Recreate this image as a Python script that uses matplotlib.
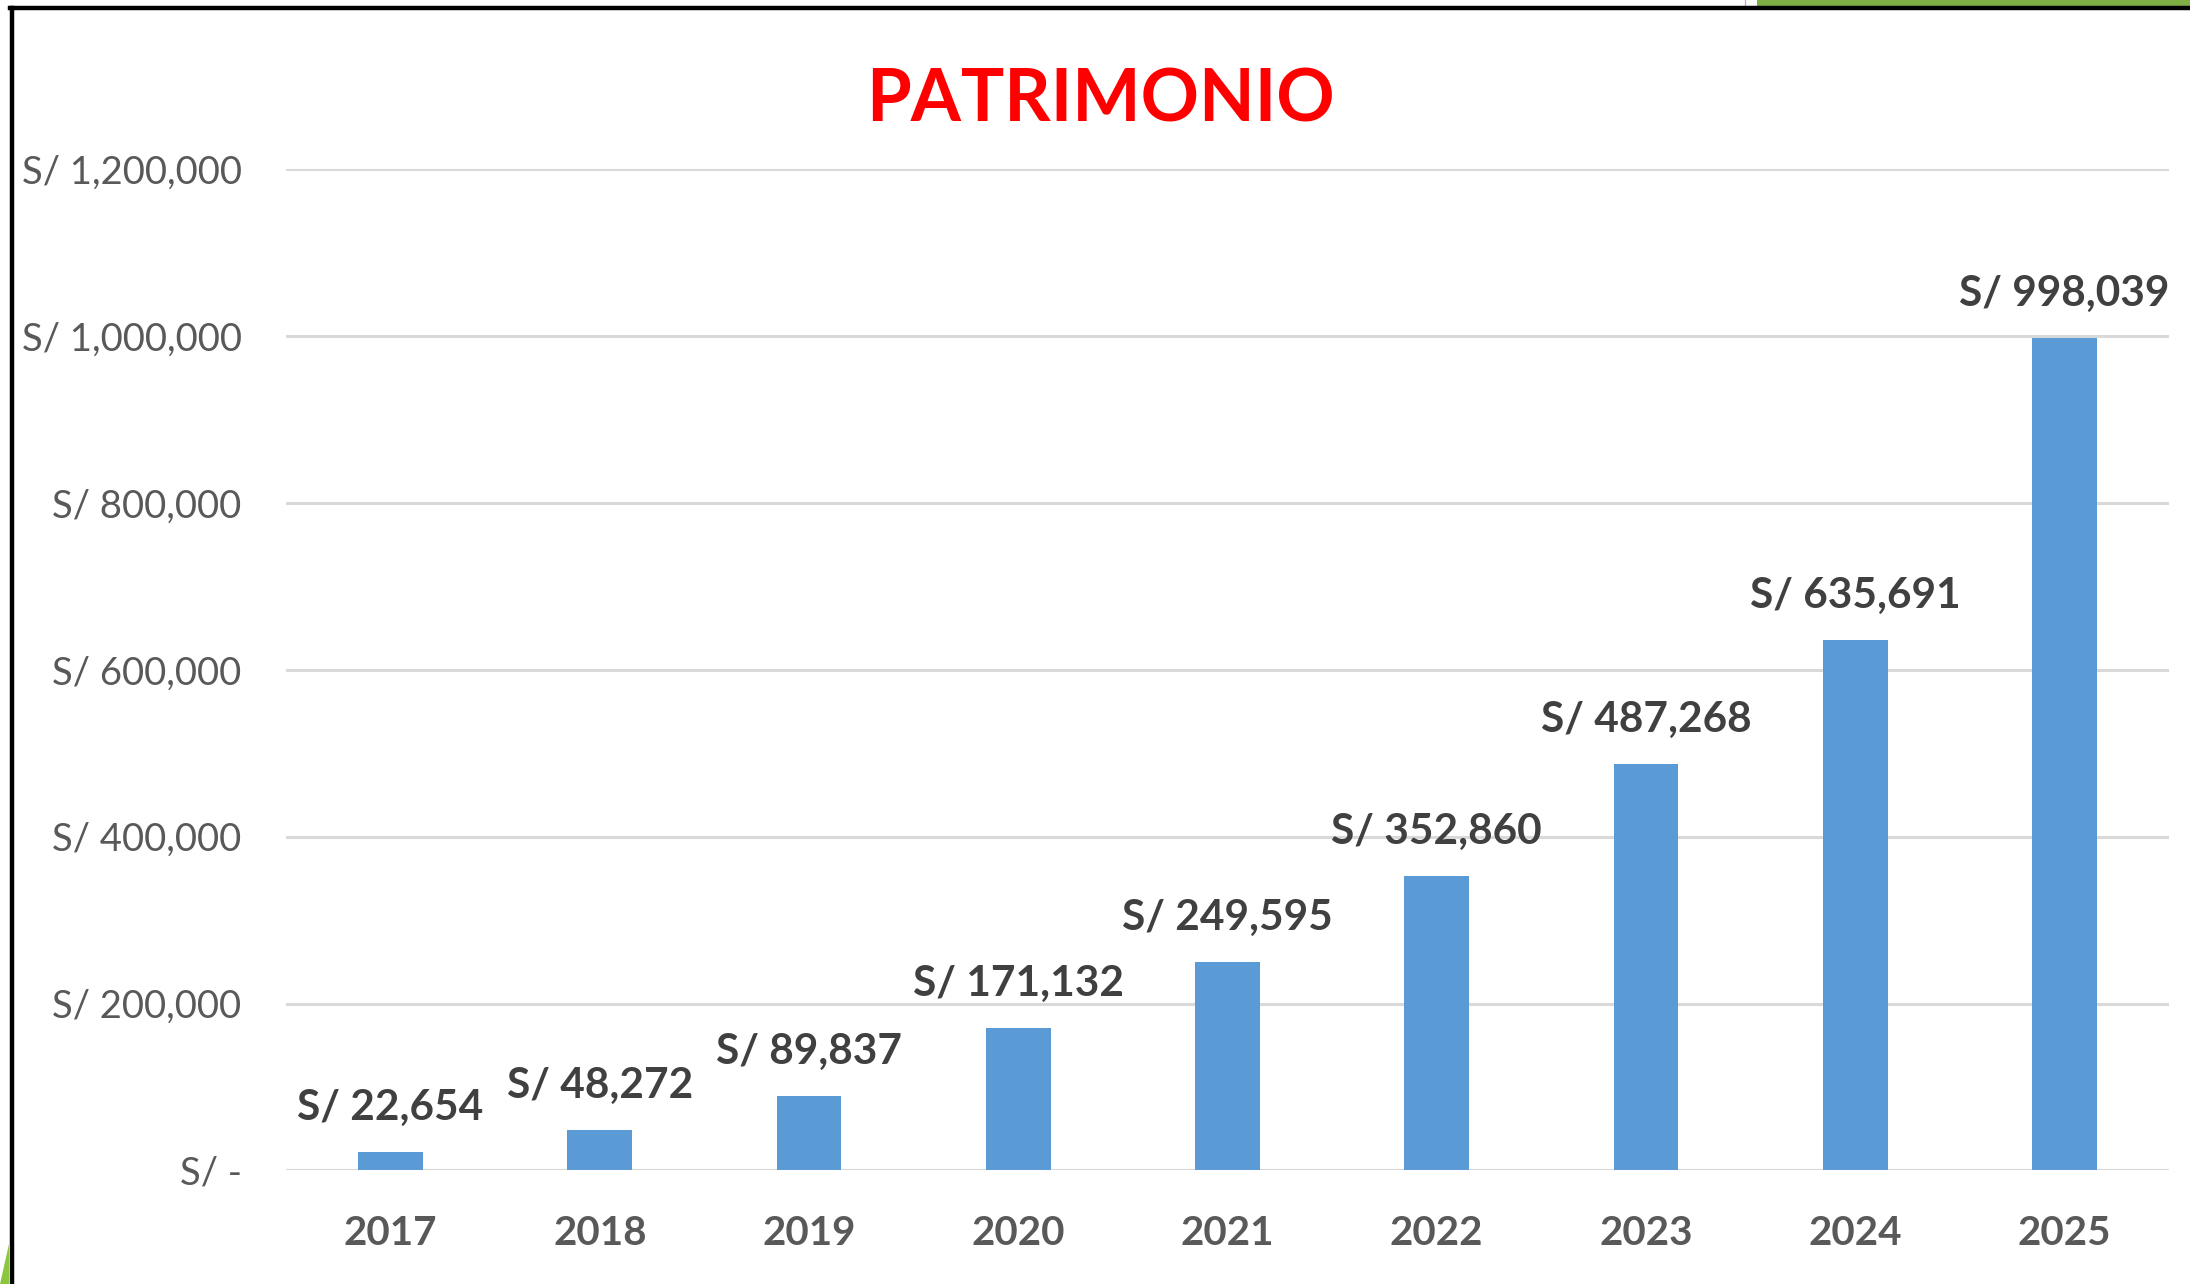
import matplotlib
matplotlib.use("Agg")
import matplotlib.pyplot as plt
from matplotlib.lines import Line2D
from matplotlib.patches import Polygon, Rectangle
from matplotlib.ticker import FuncFormatter

years = ["2017", "2018", "2019", "2020", "2021", "2022", "2023", "2024", "2025"]
patrimonio = [22654, 48272, 89837, 171132, 249595, 352860, 487268, 635691, 998039]
yticks = [0, 200000, 400000, 600000, 800000, 1000000, 1200000]
title = "PATRIMONIO"

plt.rcParams['font.family'] = ['Lato', 'DejaVu Sans']

fig = plt.figure(figsize=(21.9, 12.84), dpi=100)
ax = fig.add_axes([0.1306, 0.0884, 0.8598, 0.78])

x = range(len(years))
bars = ax.bar(x, patrimonio, width=0.31, color="#5B9BD5", zorder=3)

ax.set_xlim(-0.5, len(years) - 0.5)
ax.set_ylim(0, 1200000)
ax.set_yticks(yticks)

def fmt(v, pos):
    if v == 0:
        return "S/ -"
    return "S/ {:,.0f}".format(v)

ax.yaxis.set_major_formatter(FuncFormatter(fmt))
ax.set_xticks(list(x))
ax.set_xticklabels(years, fontweight="bold")
ax.tick_params(axis="y", length=0, pad=32, labelsize=27.5, labelcolor="#595959")
ax.tick_params(axis="x", length=0, pad=32, labelsize=29, labelcolor="#595959")
ax.grid(axis="y", color="#D9D9D9", linewidth=2.2, zorder=0)
for s in ax.spines.values():
    s.set_visible(False)

for xi, v in zip(x, patrimonio):
    ax.annotate("S/ {:,.0f}".format(v), (xi, v), xytext=(0, 18), textcoords="offset points",
                ha="center", va="bottom", fontsize=30.5, fontweight="bold",
                color="#404040", annotation_clip=False)

fig.text(0.5026, 0.921, title, ha="center", va="center", fontsize=52,
         fontweight="bold", color="#FF0000")

# frame decorations
W, H = 2190, 1284
fig.add_artist(Rectangle((1757 / W, 1 - 6 / H), 1 - 1757 / W, 6 / H, transform=fig.transFigure,
                         color="#7FAE45", lw=0))
fig.add_artist(Line2D([1745 / W, 1745 / W], [1, 1 - 6 / H], transform=fig.transFigure,
                      color="#BBBBBB", lw=1))
fig.add_artist(Polygon([[0, 0], [9 / W, 0], [9 / W, 40 / H], [0, 0]], closed=True,
                       transform=fig.transFigure, color="#8CC63F", lw=0))
fig.add_artist(Line2D([11.5 / W, 11.5 / W], [0, 1 - 8 / H], transform=fig.transFigure,
                      color="black", lw=3.2))
fig.add_artist(Line2D([10 / W, 1], [1 - 8.3 / H, 1 - 8.3 / H], transform=fig.transFigure,
                      color="black", lw=3.2))

fig.savefig("out.png", dpi=100)
